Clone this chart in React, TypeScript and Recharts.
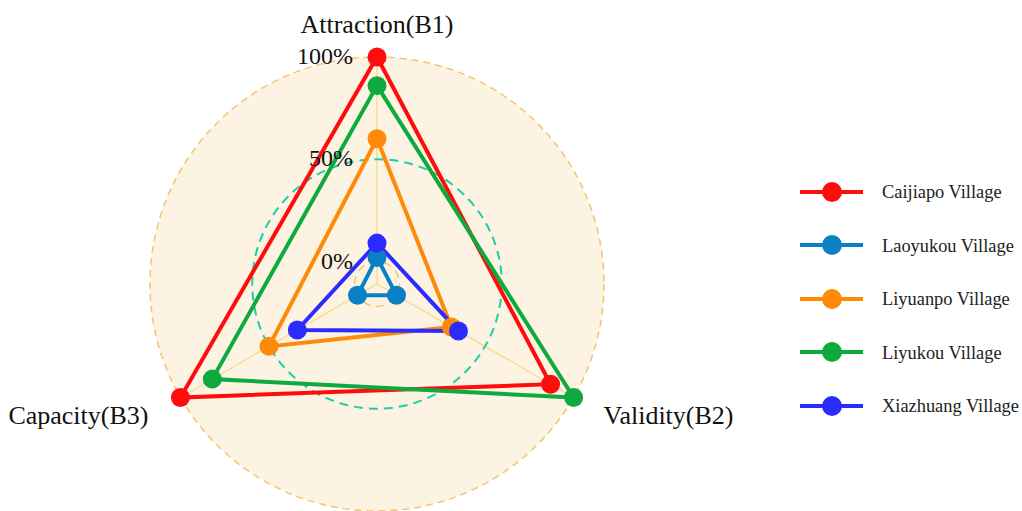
import React from "react";
import {
  Legend,
  PolarAngleAxis,
  PolarGrid,
  PolarRadiusAxis,
  Radar,
  RadarChart,
} from "recharts";

const categories = ["Attraction(B1)", "Validity(B2)", "Capacity(B3)"];

const caijiapo = [100, 87, 100];
const laoyukou = [2, 0, 0];
const liyuanpo = [60, 31, 50];
const liyukou = [86, 100, 82];
const xiazhuang = [9, 35, 34];

const radiusTicks = [0, 50, 100];
const RADIUS_DOMAIN: [number, number] = [-11, 100];

const SERIES = [
  { key: "caijiapo", name: "Caijiapo Village", color: "#ff0d0d", values: caijiapo },
  { key: "laoyukou", name: "Laoyukou Village", color: "#0a80c4", values: laoyukou },
  { key: "liyuanpo", name: "Liyuanpo Village", color: "#ff8a0a", values: liyuanpo },
  { key: "liyukou", name: "Liyukou Village", color: "#0dab3f", values: liyukou },
  { key: "xiazhuang", name: "Xiazhuang Village", color: "#2b2bff", values: xiazhuang },
];

const data = categories.map((c, i) => {
  const row: Record<string, string | number> = { category: c };
  SERIES.forEach((s) => {
    row[s.key] = s.values[i];
  });
  return row;
});

const W = 1022;
const H = 511;
const CX = 377;
const CY = 284;
const OUTER_R = 227;
const FONT = "'Liberation Serif', 'Times New Roman', serif";

// pixel radius of a value on the radial axis (used for the styled rings)
const ringR = (v: number) =>
  (OUTER_R * (v - RADIUS_DOMAIN[0])) / (RADIUS_DOMAIN[1] - RADIUS_DOMAIN[0]);

const AngleTick = (props: any) => {
  const { x, y, payload, index } = props;
  let anchor: "middle" | "start" | "end" = "middle";
  let dx = 0;
  let dy = -16;
  if (index === 1) {
    anchor = "start";
    dx = 23;
    dy = 22;
  } else if (index === 2) {
    anchor = "end";
    dx = -25;
    dy = 22;
  }
  return (
    <text
      x={x + dx}
      y={y + dy}
      textAnchor={anchor}
      fontSize={26}
      fontFamily={FONT}
      fill="#111"
    >
      {payload.value}
    </text>
  );
};

const RadiusTick = (props: any) => {
  const { x, y, payload } = props;
  return (
    <text
      x={x - 24}
      y={y + 7}
      textAnchor="end"
      fontSize={24}
      fontFamily={FONT}
      fill="#111"
    >
      {payload.value}%
    </text>
  );
};

const LegendContent = (props: any) => {
  const { payload } = props;
  return (
    <div style={{ fontFamily: FONT, whiteSpace: "nowrap" }}>
      {(payload || []).map((p: any) => (
        <div
          key={p.value}
          style={{ display: "flex", alignItems: "center", height: 53.5 }}
        >
          <svg width={63} height={22} style={{ flexShrink: 0 }}>
            <line x1={0} y1={11} x2={63} y2={11} stroke={p.color} strokeWidth={4} />
            <circle cx={32} cy={11} r={10} fill={p.color} />
          </svg>
          <span
            style={{
              marginLeft: 19,
              fontSize: 18.4,
              color: "#222",
              fontFamily: FONT,
              position: "relative",
              top: 1,
            }}
          >
            {p.value}
          </span>
        </div>
      ))}
    </div>
  );
};

export default function App() {
  return (
    <div
      style={{
        position: "relative",
        width: W,
        height: H,
        overflow: "hidden",
        background: "#fff",
      }}
    >
      <style>{"html,body{margin:0;padding:0;overflow:hidden;}"}</style>
      <div
        style={{
          position: "absolute",
          left: CX - OUTER_R,
          top: CY - OUTER_R,
          width: OUTER_R * 2,
          height: OUTER_R * 2,
          borderRadius: "50%",
          background: "#fdf3e2",
        }}
      />
      <div style={{ position: "absolute", left: 0, top: 0 }}>
        <RadarChart
          width={W}
          height={H}
          data={data}
          cx={CX}
          cy={CY}
          outerRadius={OUTER_R}
          margin={{ top: 0, right: 0, bottom: 0, left: 0 }}
        >
          <PolarGrid
            gridType="circle"
            polarRadius={[]}
            stroke="#f6d889"
            strokeWidth={1.2}
          />
          <PolarGrid
            gridType="circle"
            polarRadius={[ringR(100)]}
            radialLines={false}
            stroke="#f3c56c"
            strokeDasharray="7 5"
            strokeWidth={1.5}
          />
          <PolarGrid
            gridType="circle"
            polarRadius={[ringR(50)]}
            radialLines={false}
            stroke="#1ccfa8"
            strokeDasharray="9 6"
            strokeWidth={2}
          />
          <PolarGrid
            gridType="circle"
            polarRadius={[ringR(0)]}
            radialLines={false}
            stroke="#f6c27a"
            strokeDasharray="8 6"
            strokeWidth={1.5}
          />
          <PolarAngleAxis
            dataKey="category"
            tick={<AngleTick />}
            tickLine={false}
            axisLine={false}
          />
          <PolarRadiusAxis
            angle={90}
            domain={RADIUS_DOMAIN}
            ticks={radiusTicks}
            tick={<RadiusTick />}
            tickLine={false}
            axisLine={false}
          />
          {SERIES.map((s) => (
            <Radar
              key={s.key}
              name={s.name}
              dataKey={s.key}
              stroke={s.color}
              strokeWidth={4}
              fill="none"
              fillOpacity={0}
              dot={{ r: 9.5, fill: s.color, stroke: "none", fillOpacity: 1 }}
              isAnimationActive={false}
            />
          ))}
          <Legend
            layout="vertical"
            align="right"
            verticalAlign="top"
            content={<LegendContent />}
            wrapperStyle={{ left: 800, top: 165, width: 222 }}
          />
        </RadarChart>
      </div>
    </div>
  );
}
